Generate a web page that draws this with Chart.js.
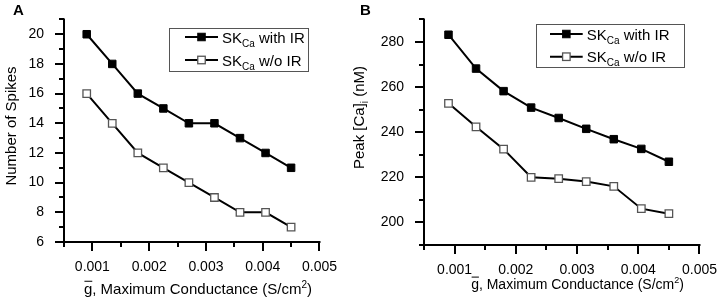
<!DOCTYPE html>
<html>
<head>
<meta charset="utf-8">
<script src="https://cdn.jsdelivr.net/npm/chart.js@4.4.0/dist/chart.umd.min.js"></script>
<style>
  body { margin: 0; background: #fff; }
  #wrap { position: relative; width: 725px; height: 303px; }
  .panel { position: absolute; top: 0; height: 303px; }
</style>
</head>
<body>
<div id="wrap">
  <div class="panel" style="left:0;width:345px"><canvas id="chartA"></canvas></div>
  <div class="panel" style="left:345px;width:380px"><canvas id="chartB"></canvas></div>
</div>
<script>
// data
const conductance = [0.0009, 0.00135, 0.0018, 0.00225, 0.0027, 0.00315, 0.0036, 0.00405, 0.0045];
const spikesWithIR = [20, 18, 16, 15, 14, 14, 13, 12, 11];
const spikesWithoutIR = [16, 14, 12, 11, 10, 9, 8, 8, 7];
const peakCaWithIR = [283.2, 268.2, 258.2, 250.9, 246.3, 241.5, 236.9, 232.6, 226.9];
const peakCaWithoutIR = [252.8, 242.4, 232.5, 220.0, 219.4, 218.1, 216.0, 206.1, 203.9];
const seriesNames = [' with IR', ' w/o IR'];
const xTickLabels = [0.001, 0.002, 0.003, 0.004, 0.005];
const spikesTickLabels = [6, 8, 10, 12, 14, 16, 18, 20];
const caTickLabels = [200, 220, 240, 260, 280];

const FONT = '"Liberation Sans", Arial, sans-serif';

function drawRich(ctx, parts, x, y, align) {
  // parts: [text, size, dy, bold]
  let total = 0;
  parts.forEach(p => {
    ctx.font = (p[3] ? 'bold ' : '') + p[1] + 'px ' + FONT;
    total += ctx.measureText(p[0]).width;
  });
  let cx = align === 'center' ? x - total / 2 : x;
  ctx.textAlign = 'left';
  ctx.textBaseline = 'alphabetic';
  parts.forEach(p => {
    ctx.font = (p[3] ? 'bold ' : '') + p[1] + 'px ' + FONT;
    ctx.fillText(p[0], cx, y + (p[2] || 0));
    cx += ctx.measureText(p[0]).width;
  });
  return total;
}

const decor = {
  id: 'decor',
  afterDatasetsDraw(chart, args, o) {
    const ctx = chart.ctx, a = chart.chartArea;
    const xs = chart.scales.x, ys = chart.scales.y;
    ctx.save();
    ctx.strokeStyle = '#000';
    ctx.fillStyle = '#000';
    ctx.lineWidth = 2;
    ctx.lineCap = 'square';
    ctx.beginPath();
    ctx.moveTo(a.left, a.top);
    ctx.lineTo(a.left, a.bottom);
    ctx.lineTo(a.right, a.bottom);
    ctx.stroke();
    ctx.lineCap = 'butt';
    ctx.beginPath();
    ys.ticks.forEach(t => {
      const py = Math.round(ys.getPixelForValue(t.value));
      const len = t.label !== '' ? 9 : 5;
      ctx.moveTo(a.left, py);
      ctx.lineTo(a.left - len, py);
    });
    xs.ticks.forEach(t => {
      const px = Math.round(xs.getPixelForValue(t.value));
      const len = t.label !== '' ? 9 : 5;
      ctx.moveTo(px, a.bottom);
      ctx.lineTo(px, a.bottom + len);
    });
    ctx.stroke();

    // panel letter
    ctx.font = 'bold 15px ' + FONT;
    ctx.textAlign = 'left';
    ctx.fillText(o.letter, o.letterX, 15);

    // x title
    const ts = o.xTitleSize;
    drawRich(ctx, [['g', ts], [', Maximum Conductance (S/cm', ts], ['2', Math.round(ts * 0.65), -6], [')', ts]],
      o.xTitleX, o.xTitleY, 'center');
    // overline on g
    ctx.font = ts + 'px ' + FONT;
    const full = ctx.measureText('g, Maximum Conductance (S/cm').width + ctx.measureText(')').width;
    ctx.font = Math.round(ts * 0.65) + 'px ' + FONT;
    const w2 = ctx.measureText('2').width;
    ctx.font = ts + 'px ' + FONT;
    const gx = o.xTitleX - (full + w2) / 2;
    const gw = ctx.measureText('g').width;
    ctx.lineWidth = 1;
    ctx.beginPath();
    ctx.moveTo(gx + 0.5, o.xTitleY - ts * 0.85);
    ctx.lineTo(gx + gw, o.xTitleY - ts * 0.85);
    ctx.stroke();

    // y title
    ctx.save();
    ctx.translate(o.yTitleX, o.yTitleY);
    ctx.rotate(-Math.PI / 2);
    drawRich(ctx, o.yTitle, 0, 0, 'center');
    ctx.restore();

    // legend
    const lg = o.legend;
    ctx.lineWidth = 1;
    ctx.strokeStyle = '#555';
    ctx.strokeRect(lg.left + 0.5, lg.top + 0.5, lg.right - lg.left, lg.bottom - lg.top);
    chart.data.datasets.forEach((ds, i) => {
      const ry = lg.rows[i];
      ctx.strokeStyle = '#000';
      ctx.lineWidth = 2;
      ctx.beginPath();
      ctx.moveTo(lg.lineX1, ry);
      ctx.lineTo(lg.lineX2, ry);
      ctx.stroke();
      const mx = (lg.lineX1 + lg.lineX2) / 2, s = 7.5;
      ctx.fillStyle = ds.pointBackgroundColor;
      ctx.fillRect(mx - s / 2, ry - s / 2, s, s);
      ctx.strokeStyle = ds.pointBorderColor;
      ctx.lineWidth = ds.pointBorderWidth;
      ctx.strokeRect(mx - s / 2, ry - s / 2, s, s);
      ctx.fillStyle = '#000';
      drawRich(ctx, [['SK', 15], ['Ca', 10, 4], [seriesNames[i], 15]], lg.textX, ry + 5.5, 'left');
    });
    ctx.restore();
  }
};

function makeChart(id, withIR, withoutIR, yMin, yMax, yStep, yLabels, box, o) {
  const mk = (vals) => conductance.map((c, i) => ({ x: c, y: vals[i] }));
  return new Chart(document.getElementById(id), {
    type: 'line',
    data: {
      datasets: [
        {
          label: 'SKCa' + seriesNames[0],
          data: mk(withIR),
          borderColor: '#000',
          borderWidth: 2,
          pointStyle: 'rect',
          pointRadius: 5.3,
          pointBackgroundColor: '#000',
          pointBorderColor: '#000',
          pointBorderWidth: 1,
        },
        {
          label: 'SKCa' + seriesNames[1],
          data: mk(withoutIR),
          borderColor: '#000',
          borderWidth: 2,
          pointStyle: 'rect',
          pointRadius: 5.3,
          pointBackgroundColor: '#fff',
          pointBorderColor: '#555',
          pointBorderWidth: 1.3,
        }
      ]
    },
    options: {
      responsive: true,
      maintainAspectRatio: false,
      animation: false,
      layout: { padding: { left: 0, right: box.padRight, top: box.top, bottom: 0 } },
      plugins: { legend: { display: false }, tooltip: { enabled: false }, decor: o },
      scales: {
        x: {
          type: 'linear',
          min: 0.0005,
          max: 0.005,
          border: { display: false },
          grid: { drawOnChartArea: false, color: 'rgba(0,0,0,0)', tickLength: 9 },
          ticks: {
            stepSize: 0.0005,
            padding: 8,
            color: '#000',
            font: { family: FONT, size: 14 },
            maxRotation: 0,
            autoSkip: false,
            callback: v => xTickLabels.some(t => Math.abs(t - v) < 1e-9) ? v.toFixed(3) : ''
          },
          afterFit: s => { s.height = box.xHeight; }
        },
        y: {
          min: yMin,
          max: yMax,
          border: { display: false },
          grid: { drawOnChartArea: false, color: 'rgba(0,0,0,0)', tickLength: 9 },
          ticks: {
            stepSize: yStep,
            padding: 11,
            color: '#000',
            font: { family: FONT, size: 14 },
            autoSkip: false,
            callback: v => yLabels.some(t => Math.abs(t - v) < 1e-9) ? String(Math.round(v)) : ''
          },
          afterFit: s => { s.width = box.left; }
        }
      }
    },
    plugins: [decor]
  });
}

makeChart('chartA', spikesWithIR, spikesWithoutIR, 6, 21, 1, spikesTickLabels,
  { left: 64, padRight: 4, top: 11, xHeight: 61 },
  {
    letter: 'A', letterX: 13,
    xTitleX: 198, xTitleY: 294, xTitleSize: 15,
    yTitleX: 16, yTitleY: 126, yTitle: [['Number of Spikes', 15]],
    legend: { left: 169, top: 28, right: 308, bottom: 71, rows: [37, 60], lineX1: 185, lineX2: 218, textX: 222 }
  });

makeChart('chartB', peakCaWithIR, peakCaWithoutIR, 190, 290, 10, caTickLabels,
  { left: 79, padRight: 24, top: 13, xHeight: 58 },
  {
    letter: 'B', letterX: 15,
    xTitleX: 232.5, xTitleY: 289, xTitleSize: 14,
    yTitleX: 19, yTitleY: 117.5, yTitle: [['Peak [Ca]', 15], ['i', 10, 4], [' (nM)', 15]],
    legend: { left: 191, top: 24, right: 339, bottom: 67, rows: [34, 56.7], lineX1: 205, lineX2: 237.7, textX: 241.7 }
  });
</script>
</body>
</html>
